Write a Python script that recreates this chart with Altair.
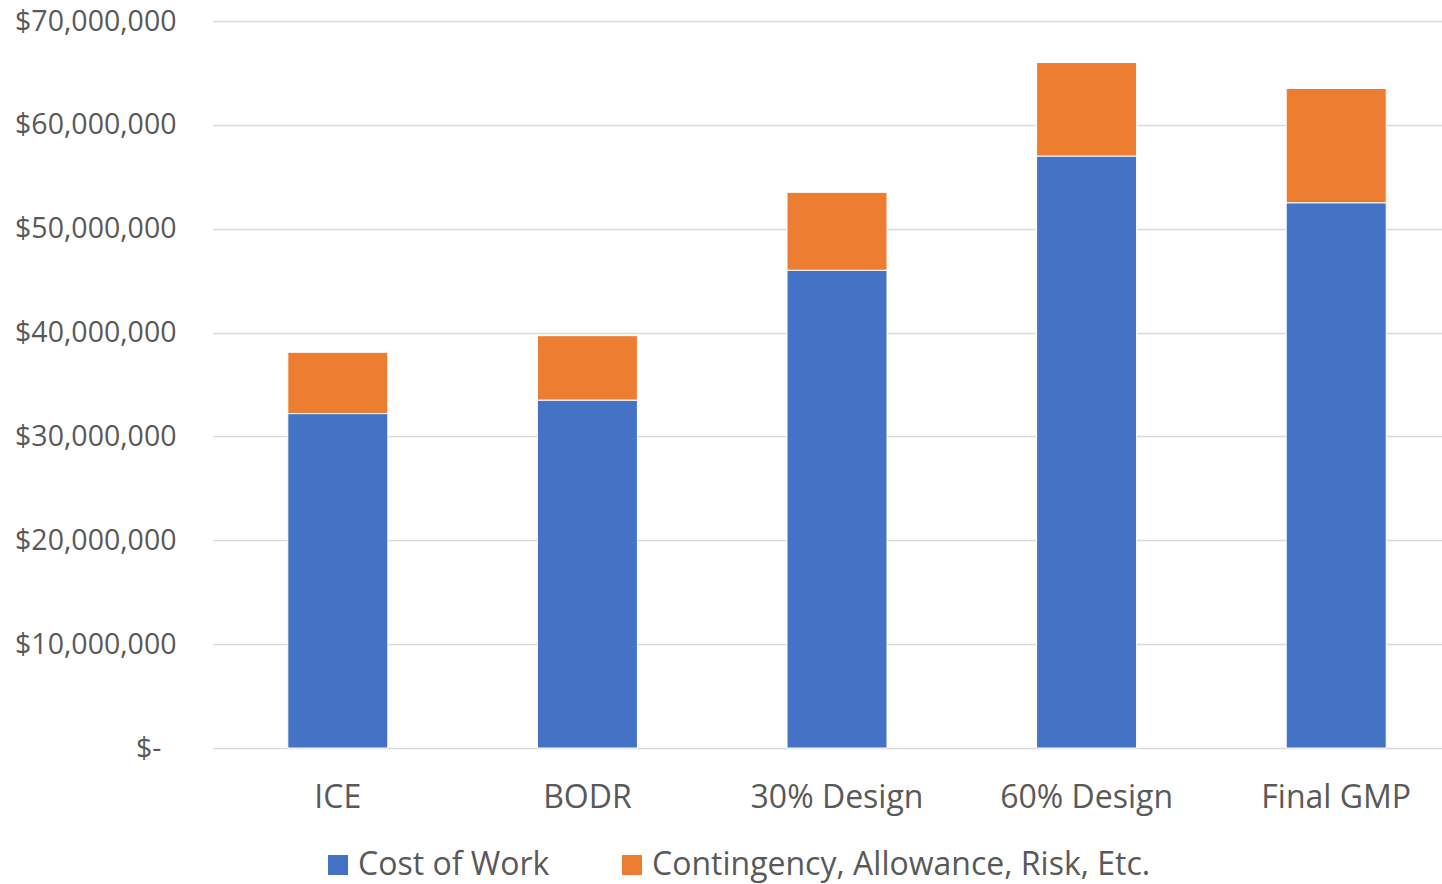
import altair as alt
import pandas as pd

categories = ["ICE", "BODR", "30% Design", "60% Design", "Final GMP"]
cost_of_work = [32200000, 33500000, 46000000, 57000000, 52500000]
contingency = [5900000, 6200000, 7500000, 9000000, 11000000]
series_names = ["Cost of Work", "Contingency, Allowance, Risk, Etc."]
y_ticks = [0, 10000000, 20000000, 30000000, 40000000, 50000000, 60000000, 70000000]

rows = []
for c, a, b in zip(categories, cost_of_work, contingency):
    rows.append({"Stage": c, "Series": series_names[0], "Value": a, "ord": 0})
    rows.append({"Stage": c, "Series": series_names[1], "Value": b, "ord": 1})
df = pd.DataFrame(rows)

FONT = "Open Sans"
GREY = "#595959"

chart = alt.Chart(df).mark_bar(size=100, stroke="white", strokeWidth=1).encode(
    x=alt.X("Stage:N", sort=categories, title=None,
            scale=alt.Scale(range=[0, 1248], paddingInner=0.6, paddingOuter=0.3),
            axis=alt.Axis(labelAngle=0, labelFontSize=32, labelColor=GREY, labelFont=FONT,
                          labelPadding=34, ticks=False, domain=False, grid=False)),
    y=alt.Y("Value:Q", stack="zero", title=None,
            scale=alt.Scale(domain=[0, 70000000], nice=False),
            axis=alt.Axis(values=y_ticks, labelFontSize=28.5, labelColor=GREY, labelFont=FONT,
                          labelPadding={"condition": {"test": "datum.value === 0", "value": 52}, "value": 37},
                          ticks=False, domain=False,
                          gridColor="#D9D9D9", gridWidth=1.5,
                          labelExpr="datum.value == 0 ? '$-' : '$' + format(datum.value, ',')")),
    color=alt.Color("Series:N", sort=series_names,
                    scale=alt.Scale(domain=series_names, range=["#4472C4", "#ED7D31"]),
                    legend=alt.Legend(title=None, orient="none", direction="horizontal",
                                      legendX=109, legendY=828,
                                      symbolType="square", symbolSize=400, symbolStrokeWidth=0,
                                      labelFontSize=32, labelColor=GREY, labelFont=FONT,
                                      labelLimit=1000, columnPadding=66, labelOffset=4)),
    order=alt.Order("ord:Q"),
).properties(
    width=1229, height=727,
    autosize=alt.AutoSizeParams(type="none"),
    padding={"left": 213, "top": 21, "right": 0, "bottom": 136},
).configure_view(stroke=None)

chart.save("out.html", embed_options={"renderer": "svg", "actions": False})
